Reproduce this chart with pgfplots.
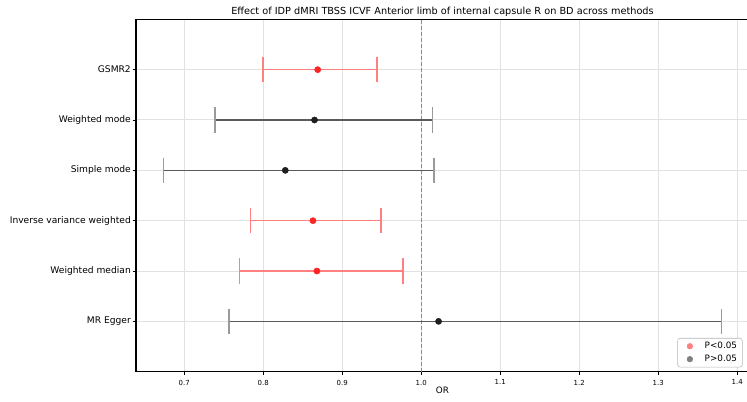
\documentclass[border=0pt]{standalone}
\usepackage{fontspec}
\setmainfont{DejaVu Sans}
\usepackage{pgfplots}
\usepackage{pgfplotstable}
\pgfplotsset{compat=1.18}

\definecolor{sigdot}{HTML}{FF2424}
\definecolor{sigbar}{HTML}{FF8080}
\definecolor{nsdot}{HTML}{1E1E1E}
\definecolor{nsbar}{HTML}{5A5A5A}
\definecolor{nscap}{HTML}{9A9A9A}
\definecolor{gridgray}{HTML}{E2E2E2}
\definecolor{legred}{HTML}{FF8080}
\definecolor{leggray}{HTML}{808080}

% y: 0 = MR Egger ... 5 = GSMR2
\pgfplotstableread{
y or lo hi
5 0.869 0.800 0.944
2 0.863 0.784 0.949
1 0.868 0.770 0.977
}\sigdata

\pgfplotstableread{
y or lo hi
4 0.865 0.739 1.014
3 0.828 0.674 1.016
0 1.022 0.757 1.380
}\nsdata

\begin{document}
\begin{tikzpicture}
\begin{axis}[
  at={(0,0)}, anchor=south west,
  scale only axis,
  width=459.75pt, height=264.3pt,
  xmin=0.639, xmax=1.415, ymin=-1, ymax=6,
  xtick={0.7,0.8,0.9,1.0,1.1,1.2,1.3,1.4},
  ytick={0,1,2,3,4,5},
  yticklabels={MR Egger,Weighted median,Inverse variance weighted,Simple mode,Weighted mode,GSMR2},
  xtick pos=bottom, ytick pos=left,
  tick align=outside, major tick length=2.6pt,
  tick style={black, line width=0.6pt},
  axis line style={black, line width=0.8pt},
  grid=major,
  major grid style={gridgray, line width=0.75pt},
  /pgf/number format/assume math mode=true,
  xticklabel style={font=\fontsize{5.2}{6}\selectfont,
    /pgf/number format/.cd, fixed, fixed zerofill, precision=1},
  yticklabel style={font=\fontsize{6.85}{8}\selectfont, inner sep=1.1pt},
  title={Effect of IDP dMRI TBSS ICVF Anterior limb of internal capsule R on BD across methods},
  every axis title/.style={font=\fontsize{7.3}{8.5}\selectfont,
    at={(0.5,1)}, anchor=south, inner sep=0pt, yshift=1.7pt},
  xlabel={OR},
  every axis x label/.style={font=\fontsize{6.6}{7.5}\selectfont,
    at={(0.5,0)}, anchor=center, yshift=-13.7pt},
  legend cell align=left,
  legend image code/.code={
    \path (0cm,0cm) (0.56cm,0cm);
    \draw[#1] plot coordinates {(0.246cm,0cm)};},
  legend style={at={(rel axis cs:1,0)}, anchor=south east, xshift=-4.8pt, yshift=3.2pt,
    draw=gridgray!80!black, rounded corners=2pt, fill=white,
    font=\fontsize{6.6}{7.5}\selectfont, row sep=1.7pt,
    inner xsep=2pt, inner ysep=2pt, nodes={inner ysep=0.8pt}},
]
\addplot[gray!90, line width=0.75pt, dash pattern=on 3pt off 1.5pt, forget plot]
  coordinates {(1,-1) (1,6)};

% confidence intervals with caps
\addplot[draw=none, mark=none, forget plot,
  error bars/.cd, x dir=both, x explicit,
  error bar style={sigbar, line width=1pt, solid},
  error mark options={rotate=90, sigbar, mark size=9.4pt, line width=1.1pt}]
  table[x=or, y=y, x error plus expr=\thisrow{hi}-\thisrow{or},
        x error minus expr=\thisrow{or}-\thisrow{lo}] {\sigdata};
\addplot[draw=none, mark=none, forget plot,
  error bars/.cd, x dir=both, x explicit,
  error bar style={nsbar, line width=1pt, solid},
  error mark options={rotate=90, nscap, mark size=9.4pt, line width=1.1pt}]
  table[x=or, y=y, x error plus expr=\thisrow{hi}-\thisrow{or},
        x error minus expr=\thisrow{or}-\thisrow{lo}] {\nsdata};

% point estimates
\addplot[only marks, mark=*, mark size=2.3pt, mark options={sigdot, draw=sigdot}, forget plot]
  table[x=or, y=y] {\sigdata};
\addplot[only marks, mark=*, mark size=2.3pt, mark options={nsdot, draw=nsdot}, forget plot]
  table[x=or, y=y] {\nsdata};

\addlegendimage{only marks, mark=*, mark size=2.1pt, mark options={legred, draw=legred}}
\addlegendentry{P<0.05}
\addlegendimage{only marks, mark=*, mark size=2.1pt, mark options={leggray, draw=leggray}}
\addlegendentry{P>0.05}
\end{axis}
\pgfresetboundingbox
\path (-102pt,-21.975pt) rectangle (458.25pt,278.775pt);
\end{tikzpicture}
\end{document}
